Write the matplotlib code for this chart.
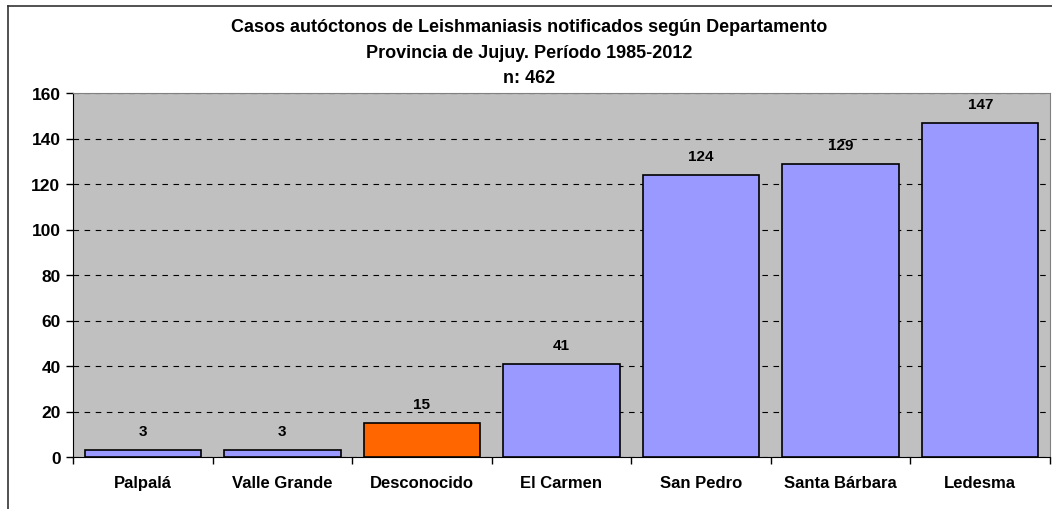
import matplotlib
matplotlib.use("Agg")
import matplotlib.pyplot as plt
from matplotlib.lines import Line2D

departamentos = ["Palpalá", "Valle Grande", "Desconocido", "El Carmen",
                 "San Pedro", "Santa Bárbara", "Ledesma"]
casos = [3, 3, 15, 41, 124, 129, 147]
colores = ["#9999FF", "#9999FF", "#FF6600", "#9999FF", "#9999FF", "#9999FF", "#9999FF"]
yticks = [0, 20, 40, 60, 80, 100, 120, 140, 160]

titulo = ["Casos autóctonos de Leishmaniasis notificados según Departamento",
          "Provincia de Jujuy. Período 1985-2012",
          "n: 462"]

plt.rcParams['font.family'] = ['Liberation Sans', 'DejaVu Sans']

fig = plt.figure(figsize=(10.52, 5.10), dpi=100)
ax = fig.add_axes([73 / 1052, 52 / 510, 977 / 1052, 364 / 510])
ax.set_facecolor("#C0C0C0")

x = range(len(departamentos))
bars = ax.bar(x, casos, width=0.835, color=colores, edgecolor="black",
              linewidth=1.2, zorder=3)

for i, v in enumerate(casos):
    ax.annotate(str(v), (i, v), xytext=(0, 8.5), textcoords="offset points",
                ha="center", va="bottom", fontsize=11, fontweight="bold", zorder=4)

ax.set_xlim(-0.5, len(departamentos) - 0.5)
ax.set_ylim(0, 160)
ax.set_yticks(yticks)
ax.set_yticklabels([str(t) for t in yticks], fontsize=12.5, fontweight="bold")
ax.yaxis.grid(True, color="black", linestyle=(0, (5, 5)), linewidth=0.8, zorder=1)

ax.set_xticks([i + 0.5 for i in range(-1, len(departamentos))], minor=False)
ax.set_xticklabels([])
ax.set_xticks(list(x), minor=True)
ax.set_xticklabels(departamentos, minor=True, fontsize=12, fontweight="bold")
ax.tick_params(axis="x", which="minor", length=0, pad=13)
ax.tick_params(axis="x", which="major", length=5, width=1, direction="out")
ax.tick_params(axis="y", length=5, width=1, direction="out", pad=4)

ax.spines["left"].set_color("black")
ax.spines["bottom"].set_color("black")
ax.spines["top"].set_color("#808080")
ax.spines["right"].set_color("#808080")

for i, line in enumerate(titulo):
    fig.text(529 / 1052, 1 - (27.5 + 25.5 * i) / 510, line, ha="center", va="center",
             fontsize=13, fontweight="bold")

# marco exterior del grafico
fig.add_artist(Line2D([8 / 1052, 8 / 1052], [0, 1 - 7 / 510], color="#333333", linewidth=1.2))
fig.add_artist(Line2D([8 / 1052, 1], [1 - 7 / 510, 1 - 7 / 510], color="#333333", linewidth=1.2))

fig.savefig("out.png", dpi=100)
